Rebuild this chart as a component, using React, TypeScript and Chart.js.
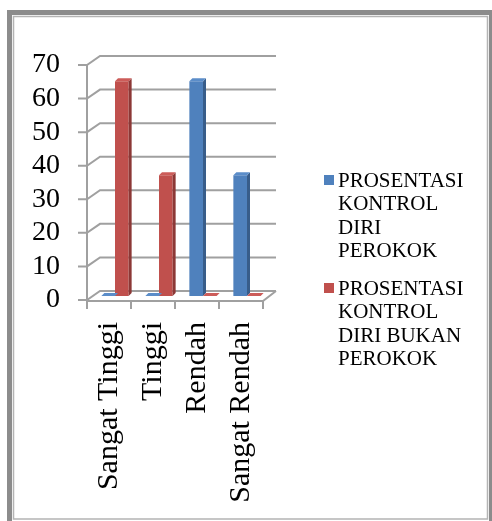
import React, { useEffect, useRef } from 'react';
import { Chart, registerables } from 'chart.js';

Chart.register(...registerables);

// ---- data ----
const categories = ['Sangat Tinggi', 'Tinggi', 'Rendah', 'Sangat Rendah'];
const perokokValues = [0, 0, 64, 36];
const bukanPerokokValues = [64, 36, 0, 0];
const legendPerokok = ['PROSENTASI', 'KONTROL', 'DIRI', 'PEROKOK'];
const legendBukanPerokok = ['PROSENTASI', 'KONTROL', 'DIRI BUKAN', 'PEROKOK'];
const yMin = 0;
const yMax = 70;
const yStep = 10;

// ---- style / geometry ----
const W = 492;
const H = 521;
const AREA_LEFT = 87;
const AREA_RIGHT = 263;
const AREA_TOP = 65;
const AREA_BOTTOM = 300;
const DEPTH_X = 13;
const DEPTH_Y = -9;
const BAR_SHIFT_X = 6;
const BAR_SHIFT_Y = -4;
const SIDE = 3;
const BLUE = '#4f81bd';
const BLUE_SIDE = '#385d8a';
const BLUE_TOP = '#5b8dc9';
const RED = '#c0504d';
const RED_SIDE = '#8c3836';
const RED_TOP = '#cc5c59';
const GRID = '#a0a0a0';
const SERIF = '"Liberation Serif", "Times New Roman", serif';

const framePlugin = {
  id: 'frame',
  beforeDraw(chart: any) {
    const ctx = chart.ctx;
    ctx.save();
    ctx.fillStyle = '#ffffff';
    ctx.fillRect(0, 0, W, H);
    ctx.fillStyle = '#8c8c8c';
    ctx.fillRect(7, 10, 5, H - 10);
    ctx.fillRect(7, 10, W - 7, 5);
    ctx.fillRect(489, 10, 3, H - 10);
    ctx.strokeStyle = '#b4b4b4';
    ctx.lineWidth = 1.5;
    ctx.beginPath();
    ctx.moveTo(13.5, 16.5);
    ctx.lineTo(487.5, 16.5);
    ctx.lineTo(487.5, 519);
    ctx.lineTo(13.5, 519);
    ctx.closePath();
    ctx.stroke();
    ctx.restore();
  },
};

const gridPlugin = {
  id: 'grid3d',
  beforeDatasetsDraw(chart: any) {
    const ctx = chart.ctx;
    const ys = chart.scales.y;
    const xs = chart.scales.x;
    const a = chart.chartArea;
    ctx.save();
    ctx.strokeStyle = GRID;
    ctx.lineWidth = 2;
    ctx.lineCap = 'butt';
    for (let v = yMin; v <= yMax; v += yStep) {
      const y = ys.getPixelForValue(v);
      ctx.beginPath();
      ctx.moveTo(a.left - 9, y);
      ctx.lineTo(a.left, y);
      ctx.lineTo(a.left + DEPTH_X, y + DEPTH_Y);
      ctx.lineTo(a.right + DEPTH_X, y + DEPTH_Y);
      ctx.stroke();
    }
    ctx.beginPath();
    ctx.moveTo(a.left, ys.getPixelForValue(yMax));
    ctx.lineTo(a.left, a.bottom + 9);
    ctx.stroke();
    const yb = ys.getPixelForValue(0);
    ctx.beginPath();
    ctx.moveTo(a.left, yb + 1);
    ctx.lineTo(a.right, yb + 1);
    ctx.lineTo(a.right + DEPTH_X, yb + DEPTH_Y);
    ctx.stroke();
    const n = categories.length;
    const step = xs.getPixelForValue(1) - xs.getPixelForValue(0);
    for (let i = 0; i <= n; i++) {
      const x = xs.getPixelForValue(0) - step / 2 + i * step;
      ctx.beginPath();
      ctx.moveTo(x, yb);
      ctx.lineTo(x, yb + 9);
      ctx.stroke();
    }
    ctx.restore();
    ctx.save();
    ctx.translate(BAR_SHIFT_X, BAR_SHIFT_Y);
  },
  afterDatasetsDraw(chart: any) {
    const ctx = chart.ctx;
    chart.data.datasets.forEach((ds: any, di: number) => {
      const meta = chart.getDatasetMeta(di);
      const sideCol = di === 0 ? BLUE_SIDE : RED_SIDE;
      const topCol = di === 0 ? BLUE_TOP : RED_TOP;
      meta.data.forEach((el: any) => {
        const l = el.x - el.width / 2;
        const r = el.x + el.width / 2;
        const top = Math.min(el.y, el.base);
        const base = el.base;
        ctx.fillStyle = sideCol;
        ctx.beginPath();
        ctx.moveTo(r, top);
        ctx.lineTo(r + SIDE, top - SIDE);
        ctx.lineTo(r + SIDE, base - SIDE);
        ctx.lineTo(r, base);
        ctx.closePath();
        ctx.fill();
        ctx.fillStyle = topCol;
        ctx.beginPath();
        ctx.moveTo(l, top);
        ctx.lineTo(l + SIDE, top - SIDE);
        ctx.lineTo(r + SIDE, top - SIDE);
        ctx.lineTo(r, top);
        ctx.closePath();
        ctx.fill();
      });
    });
    ctx.restore();
  },
};

const legendPlugin = {
  id: 'legendCustom',
  afterDraw(chart: any) {
    const ctx = chart.ctx;
    ctx.save();
    ctx.font = `21px ${SERIF}`;
    ctx.textBaseline = 'middle';
    ctx.textAlign = 'left';
    const entries = [
      { color: BLUE, lines: legendPerokok, y0: 181 },
      { color: RED, lines: legendBukanPerokok, y0: 289 },
    ];
    entries.forEach((e) => {
      ctx.fillStyle = e.color;
      ctx.fillRect(324, e.y0 - 6, 10, 10);
      ctx.fillStyle = '#000000';
      e.lines.forEach((t, i) => {
        ctx.fillText(t, 338, e.y0 + i * 23.6);
      });
    });
    ctx.restore();
  },
};

export default function App() {
  const ref = useRef<HTMLCanvasElement | null>(null);
  useEffect(() => {
    if (!ref.current) return;
    const chart = new Chart(ref.current, {
      type: 'bar',
      data: {
        labels: categories,
        datasets: [
          {
            label: legendPerokok.join(' '),
            data: perokokValues,
            backgroundColor: BLUE,
            categoryPercentage: 0.62,
            barPercentage: 1,
          },
          {
            label: legendBukanPerokok.join(' '),
            data: bukanPerokokValues,
            backgroundColor: RED,
            categoryPercentage: 0.62,
            barPercentage: 1,
          },
        ],
      },
      options: {
        responsive: false,
        animation: false,
        layout: { padding: { left: 0, top: AREA_TOP, right: W - AREA_RIGHT, bottom: 0 } },
        plugins: {
          legend: { display: false },
          tooltip: { enabled: false },
        },
        scales: {
          x: {
            grid: { display: false, drawTicks: false },
            border: { display: false },
            ticks: {
              minRotation: 90,
              maxRotation: 90,
              padding: 22,
              color: '#000000',
              font: { family: SERIF, size: 30 },
              autoSkip: false,
            },
            afterFit: (s: any) => {
              s.height = H - AREA_BOTTOM;
            },
          },
          y: {
            min: yMin,
            max: yMax,
            grid: { display: false, drawTicks: false },
            border: { display: false },
            ticks: {
              stepSize: yStep,
              autoSkip: false,
              padding: 27,
              color: '#000000',
              font: { family: SERIF, size: 28 },
            },
            afterFit: (s: any) => {
              s.width = AREA_LEFT;
            },
          },
        },
      },
      plugins: [framePlugin, gridPlugin, legendPlugin],
    });
    return () => chart.destroy();
  }, []);
  return (
    <div style={{ position: 'fixed', left: 0, top: 0, width: W, height: H }}>
      <canvas ref={ref} width={W} height={H} style={{ display: 'block', width: W, height: H }} />
    </div>
  );
}
